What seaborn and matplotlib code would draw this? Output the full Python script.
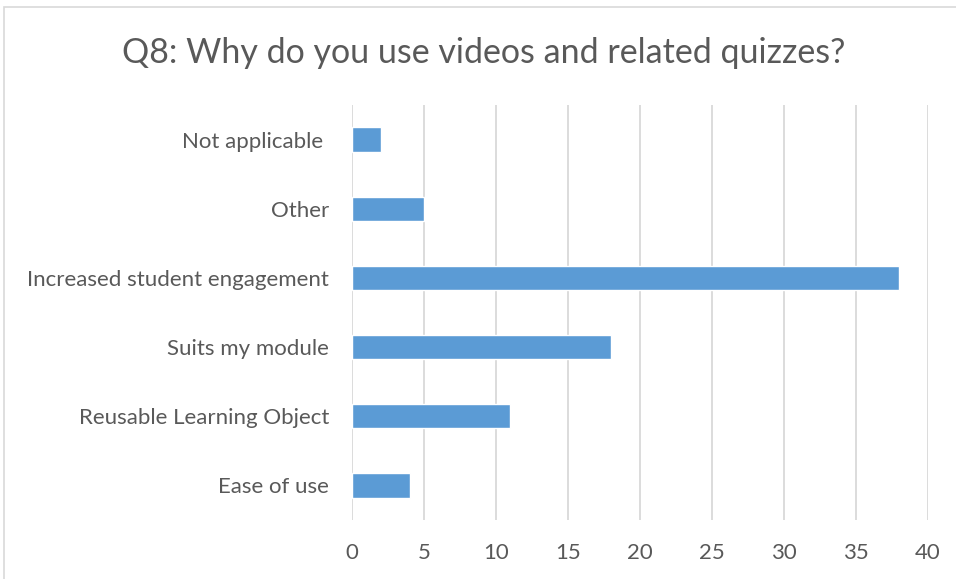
import matplotlib
matplotlib.use("Agg")
import matplotlib.pyplot as plt
import seaborn as sns
import pandas as pd
from matplotlib.patches import Rectangle

categories = ["Not applicable ", "Other", "Increased student engagement",
              "Suits my module", "Reusable Learning Object", "Ease of use"]
counts = [2, 5, 38, 18, 11, 4]
x_ticks = [0, 5, 10, 15, 20, 25, 30, 35, 40]
title = "Q8: Why do you use videos and related quizzes?"

df = pd.DataFrame({"reason": categories, "count": counts})

sns.set_theme(style="white")
plt.rcParams["font.family"] = ["Lato", "DejaVu Sans"]

W, H = 956, 579
fig = plt.figure(figsize=(W / 100, H / 100), dpi=100)
ax = fig.add_axes([352 / W, 1 - 520 / H, (928 - 352) / W, (520 - 105) / H])

sns.barplot(data=df, x="count", y="reason", order=categories, color="#5B9BD5",
            saturation=1, width=0.35, ax=ax, zorder=3)

ax.set_xlim(0, 40)
ax.set_xticks(x_ticks)
ax.set_xticklabels([str(t) for t in x_ticks])
ax.grid(axis="x", color="#D9D9D9", linewidth=1.3, zorder=0)
for s in ax.spines.values():
    s.set_visible(False)
ax.set_xlabel("")
ax.set_ylabel("")
ax.tick_params(axis="x", length=0, pad=16.5, labelsize=16, labelcolor="#595959")
ax.tick_params(axis="y", length=0, pad=16.5, labelsize=16, labelcolor="#595959")

fig.text(0.5 + 6 / W, 1 - 53 / H, title, ha="center", va="center",
         fontsize=24.5, color="#595959")

fig.patches.append(Rectangle((4 / W, -0.01), 1.02, 1 - 7 / H + 0.01,
                             transform=fig.transFigure, fill=False,
                             edgecolor="#D9D9D9", linewidth=1.2))

fig.savefig("out.png", dpi=100, facecolor="white")
